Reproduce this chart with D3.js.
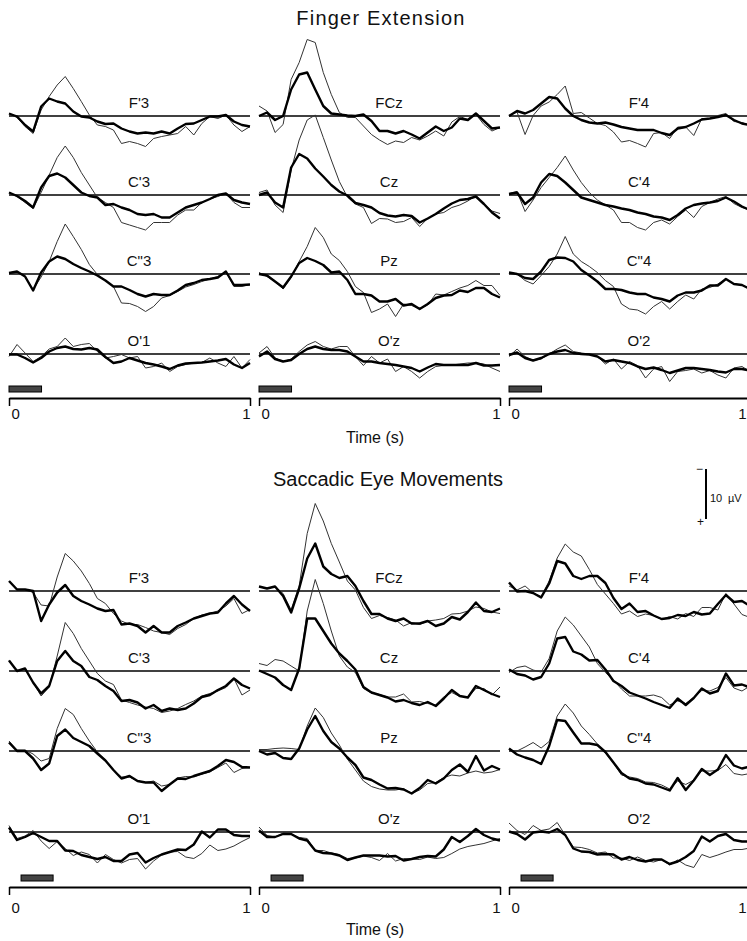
<!DOCTYPE html>
<html>
<head>
<meta charset="utf-8">
<script src="https://cdn.jsdelivr.net/npm/d3@7"></script>
<style>
  body { margin: 0; background: #fff; }
  text { font-family: "Liberation Sans", Arial, sans-serif; fill: #111; }
</style>
</head>
<body>
<div id="chart"></div>
<script>
// ERP averages, µV (negative up), sampled every 1/30 s from 0 to 1 s
// fe = finger extension, se = saccadic eye movements; b suffix = double prime (C"3, C"4)
const feThinF3  = [-0.5,0.3,2.1,3.5,-1.2,-3.9,-6.2,-7.9,-5.5,-2.9,-0.2,1.8,2.1,2.8,5.5,5.1,5.5,6.1,4.5,4.1,3.8,3.5,2.1,3.8,1.5,0.1,0.5,-0.2,1.8,3.1,2.1];
const feThickF3 = [-0.5,0.1,1.8,3.1,-1.9,-3.5,-2.9,-2.5,-0.9,0.1,0.3,1.1,1.6,1.5,2.5,3.1,3.5,3.3,3.5,3.1,3.5,2.5,1.6,1.5,0.8,0.1,0.1,-0.2,1.1,1.8,2.1];
const feThinFCz  = [-2.0,-1.0,3.3,1.7,-7.3,-10.7,-15.3,-14.7,-8.7,-4.3,-0.7,0.3,0.3,2.0,3.7,4.8,5.7,5.0,5.3,4.3,4.8,4.0,3.0,4.0,1.2,0.1,0.7,-0.3,1.7,3.0,2.3];
const feThickFCz = [0,-0.7,0.8,0,-5.3,-8.3,-8.7,-5.3,-2.0,-0.5,-0.3,-0.1,0,-0.3,1.0,3.0,3.0,3.5,3.0,3.7,4.5,3.3,2.1,3.0,2.3,0.5,0.8,-0.5,1.0,2.5,2.3];
const feThinF4  = [-0.1,-0.8,3.7,-0.1,-2.0,-2.8,-4.3,-6.0,-0.5,-0.7,0.4,1.5,1.9,3.2,5.2,4.9,5.5,6.2,3.5,3.3,4.5,2.2,2.2,3.9,0.5,0.5,-0.1,-0.5,1.1,1.3,1.9];
const feThickF4 = [0.0,-1.0,-0.5,-1.2,-2.5,-3.8,-3.5,-1.5,0.0,0.8,1.3,1.5,1.3,1.7,2.2,2.5,2.8,2.8,2.8,3.4,3.8,2.5,2.2,1.5,0.7,0.5,0.2,-0.2,0.8,1.5,1.8];

const feThinC3  = [-0.5,0.3,1.5,2.7,-0.5,-4.0,-7.5,-9.8,-7.5,-4.5,-2.0,0.5,1.5,2.5,5.5,6.0,6.5,7.0,5.5,5.5,5.5,4.0,3.0,3.0,1.5,0.8,0.3,-0.3,1.5,2.5,2.5];
const feThickC3 = [-0.5,0.2,1.2,2.5,-1.5,-3.8,-4.3,-3.5,-2.0,-0.5,0.2,0.5,2.0,1.8,2.5,3.0,3.8,4.0,3.8,4.5,4.5,3.5,2.5,2.0,1.5,0.8,0.0,-0.3,1.0,1.5,1.8];
const feThinCz  = [-0.5,-1.0,2.0,3.5,-5.0,-11.0,-15.0,-16.0,-11.5,-7.0,-2.7,0.4,1.8,2.5,5.7,4.7,4.8,5.5,5.3,4.5,6.3,4.7,3.8,3.5,2.5,2.0,1.2,0.1,1.8,3.2,3.7];
const feThickCz = [0.0,-0.5,1.5,2.5,-5.5,-8.2,-7.3,-5.3,-3.7,-2.0,-0.7,0.1,1.6,2.0,2.5,3.6,4.1,4.3,4.0,4.2,5.5,4.7,3.8,2.7,1.7,1.0,0.8,0.3,1.8,3.5,4.7];
const feThinC4  = [-0.3,-0.7,3.3,1.0,-1.5,-3.5,-5.5,-7.8,-5.0,-2.5,-0.5,1.0,2.0,3.0,5.5,5.5,6.5,7.0,5.5,5.0,5.8,4.3,3.0,4.5,2.3,1.5,0.8,0.3,1.7,2.5,3.0];
const feThickC4 = [-0.2,-0.5,1.8,0.5,-2.5,-4.2,-3.8,-2.5,-1.0,0.5,1.0,1.5,2.0,2.3,2.7,3.0,3.5,3.8,4.3,4.5,5.0,4.0,2.7,2.0,1.7,1.5,1.2,0.5,1.3,2.3,3.0];

const feThinC3b  = [-0.2,-0.5,0.5,3.1,0.6,-2.5,-6.5,-10.0,-7.5,-4.9,-1.9,0.1,1.3,2.5,5.8,5.9,6.5,7.5,6.5,4.8,4.3,3.5,2.6,2.1,1.5,1.0,0.5,-0.5,2.5,2.5,2.1];
const feThickC3b = [-0.2,-0.5,0.5,3.3,-0.3,-2.5,-3.5,-3.0,-2.0,-1.2,-0.5,0.3,1.3,2.5,2.5,3.2,4.0,4.5,4.0,4.2,4.2,3.3,2.2,1.8,1.2,1.0,0.7,-0.5,2.2,2.2,2.1];
const feThinPz  = [-0.3,0.5,1.5,3.0,0.7,-2.5,-5.5,-9.3,-7.3,-4.0,-2.7,-0.5,2.5,3.7,7.7,7.0,6.0,8.5,6.0,6.3,7.0,6.2,4.0,4.2,3.5,2.8,2.3,1.3,2.3,2.3,4.3];
const feThickPz = [0.0,0.3,1.5,2.7,0.5,-2.2,-3.2,-2.6,-1.8,-0.3,-0.5,1.2,4.0,4.0,4.3,5.5,5.5,5.0,6.3,6.0,7.0,6.0,4.8,4.3,4.2,3.3,3.6,2.8,2.8,4.0,4.7];
const feThinC4b  = [-0.3,0.0,1.3,2.0,0.3,-1.5,-4.0,-7.5,-4.0,-2.5,-1.5,-0.3,1.3,2.5,6.0,7.0,7.2,8.0,6.5,5.5,7.0,5.5,4.2,5.0,3.0,2.7,2.0,1.0,2.0,2.2,3.0];
const feThickC4b = [-0.3,0.0,0.8,1.0,-0.5,-2.8,-3.3,-3.2,-2.5,-0.8,0.3,1.5,3.0,3.0,3.2,3.7,4.0,4.0,4.7,5.0,5.5,4.3,3.7,3.7,3.3,2.3,2.3,1.0,2.0,2.2,3.0];

const feThinO1  = [0.5,-1.9,-0.2,1.5,0.5,-1.0,-1.5,-3.2,-1.5,-1.9,-2.1,-0.5,0.8,0.5,0.1,0.8,0.5,2.8,2.5,1.8,3.5,2.5,2.1,1.8,1.7,0.8,1.8,2.5,0.5,2.8,1.1];
const feThickO1 = [0.1,0.1,0.8,1.7,0.8,-0.5,-1.2,-1.5,-1.0,-0.9,-1.2,-0.9,0.6,1.8,1.5,0.8,1.3,1.8,2.1,2.5,3.0,2.3,1.9,1.8,1.7,1.5,1.3,1.0,2.1,2.8,1.8];
const feThinOz  = [-0.2,-1.5,0.8,1.5,1.0,-0.5,-1.8,-2.5,-1.5,-1.0,-1.5,-1.5,0.5,2.3,0.5,1.8,1.0,3.5,2.5,3.5,4.8,3.5,2.5,2.3,2.2,2.0,1.8,1.8,2.0,2.8,3.5];
const feThickOz = [0.5,-0.5,1.0,1.5,1.2,0.0,-1.0,-1.5,-1.0,-0.8,-0.8,-0.5,0.5,1.5,1.5,1.8,2.0,2.2,2.5,2.8,3.5,2.7,2.0,2.2,2.2,2.2,2.2,1.8,2.3,2.3,2.2];
const feThinO2  = [0.5,-1.0,0.5,1.3,1.0,0.0,-1.0,-1.8,-0.5,-0.2,0.0,0.5,2.0,1.0,3.0,1.5,2.3,4.8,3.0,2.5,5.5,3.5,3.3,3.0,3.8,3.3,4.2,4.8,2.8,2.5,3.5];
const feThickO2 = [0.2,-0.3,0.8,1.3,0.8,0.0,-0.5,-0.8,-0.2,0.0,0.1,0.5,1.5,1.2,1.5,1.8,2.5,3.0,2.7,3.2,3.8,3.3,2.8,2.8,3.0,3.2,3.5,3.7,3.0,3.0,3.3];

const seThinF3  = [-2.0,-0.3,-0.3,0.3,2.8,3.0,-2.8,-7.5,-6.0,-4.0,-1.5,1.5,2.5,4.5,6.0,6.7,6.7,7.3,8.0,8.3,8.7,7.5,6.7,5.5,4.8,4.5,4.0,3.0,1.5,4.5,3.7];
const seThickF3 = [-2.0,-0.3,-0.3,0.0,6.0,2.7,0.3,-1.2,1.0,2.0,2.7,3.5,4.0,3.8,6.7,6.5,7.0,8.3,7.0,8.3,8.3,7.0,6.3,5.5,5.0,4.5,4.3,2.5,1.0,2.7,4.0];
const seThinFCz  = [-0.9,-0.5,-0.9,0.5,3.8,-1.0,-11.5,-17.5,-14.0,-9.5,-5.8,-2.0,-0.2,3.3,5.5,4.9,5.3,5.8,7.0,6.3,6.7,6.0,5.8,5.5,4.6,4.5,4.0,3.2,3.5,4.2,4.5];
const seThickFCz = [-0.9,-0.5,-0.9,1.0,4.3,-0.5,-6.5,-9.5,-4.9,-3.4,-2.6,-3.0,-1.0,2.0,4.6,4.6,5.5,6.0,5.5,6.5,6.5,6.0,7.0,6.5,5.2,5.7,4.2,2.3,4.0,4.2,3.5];
const seThinF4  = [-1.0,-0.2,-1.0,0.4,1.1,-2.0,-6.6,-9.4,-7.8,-7.0,-4.3,-1.3,0.6,2.5,4.6,4.0,5.1,4.6,4.9,5.7,5.1,5.6,4.5,5.1,3.3,3.3,3.8,0.5,2.6,4.7,5.3];
const seThickF4 = [-1.7,0.1,0.0,0.4,1.3,-1.5,-6.0,-5.5,-3.0,-2.4,-3.0,-3.0,-1.6,1.4,3.6,2.5,4.2,4.0,4.9,5.6,5.4,4.8,5.0,4.2,4.7,4.5,2.6,0.8,2.2,2.0,3.0];

const seThinC3  = [-2.1,0.0,-0.5,2.3,5.0,3.2,-3.0,-9.7,-7.5,-4.5,-2.0,0.5,2.0,2.7,5.8,6.3,6.8,7.2,7.5,8.3,8.0,7.5,6.7,6.0,5.0,4.5,4.0,3.3,1.5,4.8,3.8];
const seThickC3 = [-2.1,0.0,-0.5,2.3,4.5,3.0,-2.0,-4.0,-2.0,-1.0,1.2,1.8,3.0,4.0,6.0,5.8,6.3,7.5,6.8,8.0,7.5,7.8,7.5,6.5,5.2,4.8,3.8,3.0,1.5,2.8,3.5];
const seThinCz  = [-1.5,-1.1,-2.3,-2.0,-1.0,0.0,-12.0,-18.3,-13.5,-8.0,-3.0,-0.8,0.3,3.5,4.4,4.7,5.2,5.2,4.6,6.2,6.1,6.5,6.8,5.2,4.3,5.1,5.2,3.5,3.5,4.8,3.2];
const seThickCz = [-0.1,0.6,1.3,2.8,3.8,-0.5,-10.5,-10.5,-8.0,-5.5,-3.5,-2.0,-0.3,3.2,4.3,4.8,5.3,6.1,5.8,6.4,6.8,6.2,7.0,5.5,3.8,5.0,5.3,3.0,3.8,4.6,5.2];
const seThinC4  = [0.3,-0.7,-1.0,-0.2,0.2,-2.5,-8.0,-10.8,-9.2,-7.0,-4.8,-1.5,0.3,1.8,3.6,5.0,5.0,5.0,4.8,5.3,6.8,6.0,6.5,5.3,3.9,4.0,3.3,1.3,3.4,4.0,3.0];
const seThickC4 = [-0.3,0.6,0.9,1.7,1.2,-1.5,-6.5,-6.8,-3.9,-3.3,-2.1,-2.2,-0.3,2.0,3.0,4.3,4.9,5.5,6.2,6.8,7.4,5.5,6.8,5.4,3.5,4.5,4.0,0.5,2.9,2.7,3.3];

const seThinC3b  = [-2.0,-0.2,-0.2,0.6,2.0,1.5,-4.5,-8.5,-7.3,-4.5,-2.0,0.2,1.8,3.8,5.2,5.2,6.0,6.3,6.0,7.0,6.7,5.4,5.1,5.2,4.6,4.2,3.3,2.4,4.3,3.5,3.3];
const seThickC3b = [-1.7,0.0,0.0,1.5,3.8,2.5,-3.0,-4.3,-2.6,-1.8,-1.0,0.5,1.9,3.8,5.5,5.0,6.0,6.3,6.3,8.0,6.7,5.5,5.6,5.0,4.5,4.0,3.0,1.8,2.2,3.2,3.3];
const seThinPz  = [-0.3,-0.3,-0.5,-0.6,-0.5,-0.3,-5.0,-8.6,-6.7,-3.6,-1.2,1.6,3.8,6.0,7.1,7.6,7.8,7.8,7.5,8.5,7.8,6.5,6.3,5.3,4.8,5.0,4.4,4.0,4.4,4.2,3.7];
const seThickPz = [0.0,0.7,0.4,1.4,1.6,-0.5,-4.3,-7.0,-4.0,-1.8,-0.5,1.3,2.8,5.3,5.8,6.7,7.5,7.4,7.7,8.5,7.4,5.8,6.5,5.5,3.8,2.7,4.2,1.0,3.9,3.0,3.7];
const seThinC4b  = [-0.2,0.0,-0.8,-1.7,-0.6,-1.9,-7.0,-9.4,-7.6,-5.0,-3.3,-1.4,0.4,2.4,4.8,5.2,5.5,6.2,6.3,6.8,7.6,6.0,6.7,5.8,4.0,4.0,3.9,2.7,4.5,4.8,4.5];
const seThickC4b = [-0.5,0.7,1.3,1.8,2.6,-1.0,-6.2,-6.0,-3.7,-1.5,-1.5,-1.2,0.2,2.3,4.4,5.5,5.8,6.5,6.7,7.3,7.9,5.4,7.8,5.9,3.6,4.8,3.7,0.8,2.9,3.5,3.1];

const seThinO1  = [-1.3,1.3,0.8,-0.3,1.8,3.3,1.9,3.3,4.7,4.0,4.5,6.2,4.5,5.5,6.2,5.5,5.3,7.4,5.8,4.6,4.0,3.9,5.0,5.3,4.3,2.6,3.7,3.4,2.8,1.9,1.1];
const seThickO1 = [-0.9,1.6,1.0,0.2,1.0,1.8,1.8,3.7,3.8,4.6,5.0,5.4,5.0,5.8,5.8,4.5,4.2,6.1,5.2,4.5,4.0,3.5,3.6,2.5,-0.1,1.1,-0.5,-0.5,0.6,0.8,0.8];
const seThinOz  = [-1.0,0.7,1.0,0.2,0.4,1.1,1.3,3.7,3.7,4.2,4.5,5.3,5.2,4.8,5.1,5.7,4.3,5.8,5.3,5.4,5.5,5.0,5.3,5.1,4.3,3.4,2.9,2.6,2.3,1.8,1.3];
const seThickOz = [-0.3,1.0,1.0,0.4,0.4,1.3,1.7,3.7,4.2,4.3,4.7,5.6,5.1,4.7,4.7,4.7,4.9,4.8,5.7,5.4,5.0,4.8,4.9,3.5,1.0,2.0,0.8,-0.6,0.6,1.3,1.7];
const seThinO2  = [-1.8,-0.3,0.5,-1.3,-0.3,-0.6,-1.9,0.6,3.0,3.1,3.5,4.2,4.0,5.2,5.2,5.7,5.0,5.7,6.0,5.5,6.6,5.6,6.6,7.1,4.5,5.1,4.6,4.0,3.5,3.5,3.2];
const seThickO2 = [-0.1,0.4,1.5,0.1,-0.1,0.1,-0.6,0.6,3.3,3.9,4.0,4.5,4.4,4.5,5.5,5.0,5.6,5.9,5.5,5.5,6.4,5.9,5.0,3.8,0.9,1.9,0.8,0.4,1.6,1.9,1.9];

const electrodeLabels = [
  ["F'3", "FCz", "F'4"],
  ["C'3", "Cz", "C'4"],
  ["C\"3", "Pz", "C\"4"],
  ["O'1", "O'z", "O'2"]
];
const times = d3.range(31).map(i => i / 30);
const fingerBar = [0, 0.135];   // movement marker, s
const saccadeBar = [0.05, 0.183];
const timeTicks = [0, 1];

const width = 747;
const height = 941;
const colX = [9, 259, 509];
const colW = 241;

const svg = d3.select("#chart")
  .append("svg")
  .attr("width", width)
  .attr("height", height);

const panels = [
  {
    title: "Finger Extension", titleX: 381, titleY: 25, spacing: 1.2,
    rows: [116, 195, 274, 354], bar: fingerBar, barY: 386,
    axisY: 398, tickLabelY: 419, timeY: 443,
    thin: [[feThinF3, feThinFCz, feThinF4], [feThinC3, feThinCz, feThinC4],
           [feThinC3b, feThinPz, feThinC4b], [feThinO1, feThinOz, feThinO2]],
    thick: [[feThickF3, feThickFCz, feThickF4], [feThickC3, feThickCz, feThickC4],
            [feThickC3b, feThickPz, feThickC4b], [feThickO1, feThickOz, feThickO2]]
  },
  {
    title: "Saccadic Eye Movements", titleX: 388, titleY: 486, spacing: 0,
    rows: [591, 671, 751, 832], bar: saccadeBar, barY: 875,
    axisY: 887, tickLabelY: 913, timeY: 935,
    thin: [[seThinF3, seThinFCz, seThinF4], [seThinC3, seThinCz, seThinC4],
           [seThinC3b, seThinPz, seThinC4b], [seThinO1, seThinOz, seThinO2]],
    thick: [[seThickF3, seThickFCz, seThickF4], [seThickC3, seThickCz, seThickC4],
            [seThickC3b, seThickPz, seThickC4b], [seThickO1, seThickOz, seThickO2]]
  }
];

function drawPanel(p) {
  svg.append("text")
     .attr("x", p.titleX)
     .attr("y", p.titleY)
     .attr("text-anchor", "middle")
     .attr("font-size", 20)
     .attr("letter-spacing", p.spacing)
     .text(p.title);

  colX.forEach((x0, c) => {
    const x = d3.scaleLinear().domain([0, 1]).range([x0, x0 + colW]);

    p.rows.forEach((base, r) => {
      // 10 µV = 50 px, negative up
      const y = d3.scaleLinear().domain([-10, 10]).range([base - 50, base + 50]);
      const line = d3.line()
        .x((d, i) => x(times[i]))
        .y(d => y(d));

      svg.append("line")
         .attr("x1", x(0)).attr("x2", x(1))
         .attr("y1", y(0)).attr("y2", y(0))
         .attr("stroke", "#000")
         .attr("stroke-width", 1.6);

      svg.append("text")
         .attr("x", x0 + 130)
         .attr("y", base - 8)
         .attr("text-anchor", "middle")
         .attr("font-size", 15)
         .text(electrodeLabels[r][c]);

      svg.append("path")
         .datum(p.thin[r][c])
         .attr("d", line)
         .attr("fill", "none")
         .attr("stroke", "#333")
         .attr("stroke-width", 1);

      svg.append("path")
         .datum(p.thick[r][c])
         .attr("d", line)
         .attr("fill", "none")
         .attr("stroke", "#000")
         .attr("stroke-width", 2.4)
         .attr("stroke-linejoin", "round");
    });

    svg.append("rect")
       .attr("x", x(p.bar[0]))
       .attr("y", p.barY)
       .attr("width", x(p.bar[1]) - x(p.bar[0]))
       .attr("height", 6)
       .attr("fill", "#444")
       .attr("stroke", "#000")
       .attr("stroke-width", 1);

    const axis = svg.append("g")
      .attr("transform", `translate(0,${p.axisY})`)
      .call(d3.axisBottom(x).tickValues(timeTicks).tickSizeInner(8).tickSizeOuter(0).tickFormat(d3.format("d")));
    axis.select(".domain").attr("stroke-width", 2);
    axis.selectAll(".tick line").attr("stroke-width", 1.5);
    axis.selectAll(".tick text")
        .attr("font-family", null)
        .attr("font-size", 15)
        .attr("fill", "#111")
        .attr("dy", null)
        .attr("y", p.tickLabelY - p.axisY)
        .attr("x", d => d === 0 ? 2 : Math.min(0, width - 1 - x(d)))
        .attr("text-anchor", d => d === 0 ? "start" : "end");
  });

  svg.append("text")
     .attr("x", 375)
     .attr("y", p.timeY)
     .attr("text-anchor", "middle")
     .attr("font-size", 16)
     .text("Time (s)");
}

panels.forEach(drawPanel);

// amplitude calibration bar
const scaleY = d3.scaleLinear().domain([-10, 0]).range([469, 519]);
svg.append("line")
   .attr("x1", 706).attr("x2", 706)
   .attr("y1", scaleY(-10)).attr("y2", scaleY(0))
   .attr("stroke", "#000")
   .attr("stroke-width", 2);
svg.append("text").attr("x", 703).attr("y", scaleY(-10) + 4)
   .attr("text-anchor", "end").attr("font-size", 12).text("−");
svg.append("text").attr("x", 704).attr("y", scaleY(0) + 7)
   .attr("text-anchor", "end").attr("font-size", 12).text("+");
svg.append("text").attr("x", 710).attr("y", 502).attr("font-size", 11).text("10");
svg.append("text").attr("x", 728).attr("y", 502).attr("font-size", 11).text("µV");
</script>
</body>
</html>
